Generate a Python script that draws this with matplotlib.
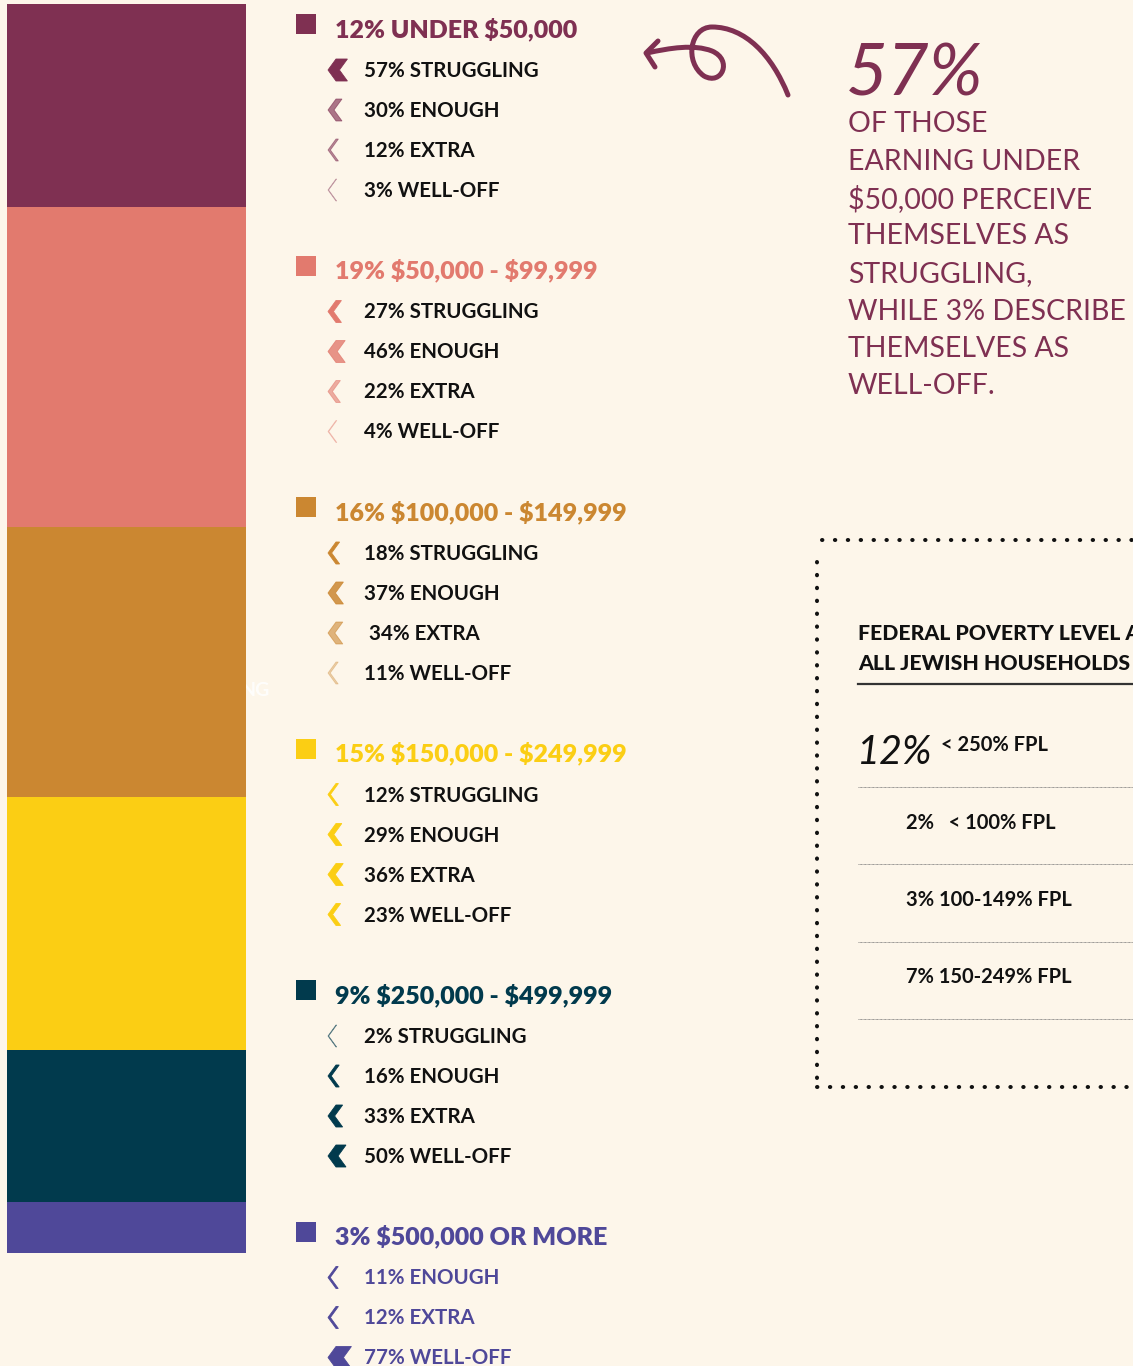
import numpy as np
import matplotlib
matplotlib.use('Agg')
import matplotlib.pyplot as plt
from matplotlib.patches import Polygon, PathPatch
from matplotlib.path import Path

# income brackets: share of all households (%)
brackets = ["UNDER $50,000", "$50,000 - $99,999", "$100,000 - $149,999",
            "$150,000 - $249,999", "$250,000 - $499,999", "$500,000 OR MORE"]
bracket_share = [12, 19, 16, 15, 9, 3]
bracket_colors = ["#7F3052", "#E27A6E", "#CB8731", "#FBCE14", "#013A4D", "#4F4899"]

# perceived financial situation inside each bracket (%)
perc_labels = [
    ["STRUGGLING", "ENOUGH", "EXTRA", "WELL-OFF"],
    ["STRUGGLING", "ENOUGH", "EXTRA", "WELL-OFF"],
    ["STRUGGLING", "ENOUGH", "EXTRA", "WELL-OFF"],
    ["STRUGGLING", "ENOUGH", "EXTRA", "WELL-OFF"],
    ["STRUGGLING", "ENOUGH", "EXTRA", "WELL-OFF"],
    ["ENOUGH", "EXTRA", "WELL-OFF"],
]
perc_values = [
    [57, 30, 12, 3],
    [27, 46, 22, 4],
    [18, 37, 34, 11],
    [12, 29, 36, 23],
    [2, 16, 33, 50],
    [11, 12, 77],
]
# chevron tint per row
perc_alpha = [
    [1, 0.65, 0.55, 0.35],
    [1, 0.8, 0.6, 0.35],
    [1, 0.85, 0.6, 0.35],
    [1, 1, 1, 1],
    [0.5, 1, 1, 1],
    [1, 1, 1],
]

# federal poverty level box
fpl_total = 12
fpl_total_label = "< 250% FPL"
fpl_values = [2, 3, 7]
fpl_labels = ["  < 100% FPL", "100-149% FPL", "150-249% FPL"]

bg = "#FDF6EA"
plum = "#7F3052"
ink = "#111111"

W, H = 1133, 1366
fig = plt.figure(figsize=(W / 100, H / 100), dpi=100, facecolor=bg)
ax = fig.add_axes([0, 0, 1, 1])
ax.set_xlim(0, W)
ax.set_ylim(H, 0)
ax.axis('off')
ax.set_facecolor(bg)

# stacked bar on the left
bax = fig.add_axes([7 / W, (H - 1253) / H, (246 - 7) / W, (1253 - 4) / H])
bottom = 0
for share, col in zip(bracket_share, bracket_colors):
    bax.bar(0, share, bottom=bottom, width=1, color=col, linewidth=0)
    bottom += share
bax.set_xlim(-0.5, 0.5)
bax.set_ylim(sum(bracket_share), 0)
bax.axis('off')
ax.text(270, 690, "NG", color="white", fontsize=14, fontweight='bold',
        family='Lato', ha='right', va='center', alpha=0.85)

# legend with chevrons
fam = 'Lato'
y0, gstep, rstep = 28, 241.5, 40
for g, (name, share, col) in enumerate(zip(brackets, bracket_share, bracket_colors)):
    yc = y0 + g * gstep
    ax.add_patch(plt.Rectangle((296, yc - 14), 20, 20, color=col, lw=0))
    ax.text(335, yc + 1, f"{share}% {name}", color=col, fontsize=18, fontweight='heavy',
            family=fam, va='center', ha='left', parse_math=False)
    txtcol = col if g == len(brackets) - 1 else ink
    for r, (lab, v, a) in enumerate(zip(perc_labels[g], perc_values[g], perc_alpha[g])):
        yr = yc + 42 + r * rstep
        t = max(v * 0.2, 0.6)
        x0, hh, off = 328, 11, 8
        pts = [(x0, yr), (x0 + off, yr - hh), (x0 + off + t, yr - hh),
               (x0 + t, yr), (x0 + off + t, yr + hh), (x0 + off, yr + hh)]
        ax.add_patch(Polygon(pts, closed=True, facecolor=col, edgecolor=col,
                             lw=0.6, alpha=a))
        pre = " " if (g == 2 and lab == "EXTRA") else ""
        ax.text(364, yr + 1, f"{pre}{v}% {lab}", color=txtcol, fontsize=14.8,
                fontweight='bold', family=fam, va='center', ha='left')

# curly arrow
verts = [(788, 95), (772, 55), (745, 27), (712, 27),
         (690, 27), (684, 62), (704, 76),
         (722, 86), (733, 60), (712, 51),
         (694, 44), (670, 48), (647, 53)]
codes = [Path.MOVETO] + [Path.CURVE4] * 12
ax.add_patch(PathPatch(Path(verts, codes), facecolor='none', edgecolor=plum,
                       lw=3.6, capstyle='round'))
ax.plot([658, 646, 655], [41, 53, 67], color=plum, lw=3.6,
        solid_capstyle='round', solid_joinstyle='round')

# callout text
ax.text(846, 95, "57%", color=plum, fontsize=52, family=fam, fontstyle='italic',
        va='baseline', ha='left')
callout = ["OF THOSE", "EARNING UNDER", "$50,000 PERCEIVE", "THEMSELVES AS",
           "STRUGGLING,", "WHILE 3% DESCRIBE", "THEMSELVES AS", "WELL-OFF."]
for i, line in enumerate(callout):
    ax.text(848, 124 + i * 37.5, line, color=plum, fontsize=20.5, family=fam,
            va='center', ha='left', parse_math=False)

# dotted box
dot = dict(color=ink, lw=2.9, linestyle=(0, (0.1, 3.1)), dash_capstyle='round')
ax.plot([822, W + 5], [540, 540], **dot)
ax.plot([817, 817], [562, 1082], **dot)
ax.plot([817, W + 5], [1087, 1087], **dot)

ax.text(858, 634, "FEDERAL POVERTY LEVEL AMONG", color=ink, fontsize=15.3,
        fontweight='black', family=fam, va='center', ha='left', clip_on=True)
ax.text(858, 664, "ALL JEWISH HOUSEHOLDS", color=ink, fontsize=15.3,
        fontweight='black', family=fam, va='center', ha='left')
ax.plot([858, W], [684, 684], color='#333333', lw=1.6)

ax.text(857, 764, f"{fpl_total}%", color=ink, fontsize=28.5, family=fam,
        fontstyle='italic', va='baseline', ha='left')
ax.text(941, 745, fpl_total_label, color=ink, fontsize=14.5, fontweight='bold',
        family=fam, va='center', ha='left')
for i, (v, lab) in enumerate(zip(fpl_values, fpl_labels)):
    ax.text(906, 823 + i * 77, f"{v}% {lab}", color=ink, fontsize=14.5,
            fontweight='bold', family=fam, va='center', ha='left')
for i in range(4):
    ax.plot([858, W], [787 + i * 77.3] * 2, color='#777777', lw=0.6,
            linestyle=(0, (1, 0.6)))

fig.savefig("out.png", dpi=100, facecolor=bg)
